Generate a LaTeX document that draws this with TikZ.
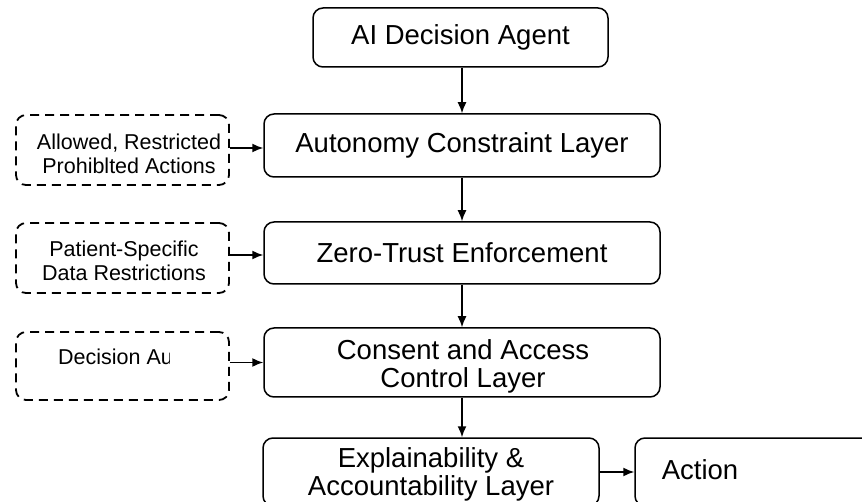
\documentclass[tikz,border=0pt]{standalone}
\usepackage{fontspec}
\setmainfont{Liberation Sans}
\usetikzlibrary{arrows.meta,positioning}
\tikzset{
  mainbox/.style={draw, line width=1.5pt, rounded corners=10pt, inner sep=0pt, align=center,
    font=\fontsize{27.5}{28}\selectfont},
  sidebox/.style={draw, line width=1.8pt, rounded corners=10pt, dash pattern=on 9pt off 6pt, inner sep=0pt},
  sidetext/.style={align=center, inner sep=0pt, font=\fontsize{21.5}{24}\selectfont},
  conn/.style={line width=1.5pt, -{Latex[length=11pt,width=9pt]}}
}
\begin{document}
\begin{tikzpicture}[x=1pt,y=-1pt]
\useasboundingbox (0,0) rectangle (862,502);
\clip (0,0) rectangle (862,502);
\fill[white] (0,0) rectangle (862,502);
% main boxes
\node[mainbox, minimum width=295pt, minimum height=59pt] (ai) at (460.5,37.5) {AI Decision Agent};
\node[mainbox, minimum width=396pt, minimum height=63pt] (acl) at (462,145.5) {Autonomy Constraint Layer};
\node[mainbox, minimum width=396pt, minimum height=62pt] (zt) at (462,253) {Zero-Trust Enforcement};
\node[mainbox, minimum width=396pt, minimum height=69pt] (cac) at (462,362.5) {};
\node[mainbox, draw=none, fill=none] (cact) at (463,366) {Consent and Access\\Control Layer};
\node[mainbox, minimum width=336pt, minimum height=68pt] (eal) at (431,472) {};
\node[mainbox, draw=none, fill=none] (ealt) at (431,474) {Explainability \&\\Accountability Layer};
\node[mainbox, minimum width=250pt, minimum height=68pt] (act) at (760,472) {};
\node[inner sep=0pt, font=\fontsize{27.5}{28}\selectfont] (actt) at (700,470) {Action};
% side boxes
\node[sidebox, minimum width=213pt, minimum height=70pt] (s1) at (122.5,150) {};
\node[sidetext] (s1t) at (129,154) {Allowed, Restricted\\Prohiblted Actions};
\node[sidebox, minimum width=213pt, minimum height=70pt] (s2) at (122.5,258) {};
\node[sidetext] (s2t) at (124,261) {Patient-Specific\\Data Restrictions};
\node[sidebox, minimum width=213pt, minimum height=68pt] (s3) at (122.5,366) {};
\begin{scope}
\clip (40,330) rectangle (169,400);
\node[sidetext, anchor=base west] (s3t) at (58,365) {Decision Au};
\end{scope}
% connectors
\draw[conn] (ai.south -| acl.north) -- (acl.north);
\draw[conn] (acl.south) -- (zt.north);
\draw[conn] (zt.south) -- (cac.north);
\draw[conn] (cac.south) -- (cac.south |- eal.north);
\draw[conn] (eal.east) -- (act.west);
\draw[conn] (acl.west -| s1.east) ++(0,2.5) coordinate (c1) -- (c1 -| acl.west);
\draw[conn] (zt.west -| s2.east) ++(0,2) coordinate (c2) -- (c2 -| zt.west);
\draw[conn] (s3.east |- cac.west) -- (cac.west);
\end{tikzpicture}
\end{document}
